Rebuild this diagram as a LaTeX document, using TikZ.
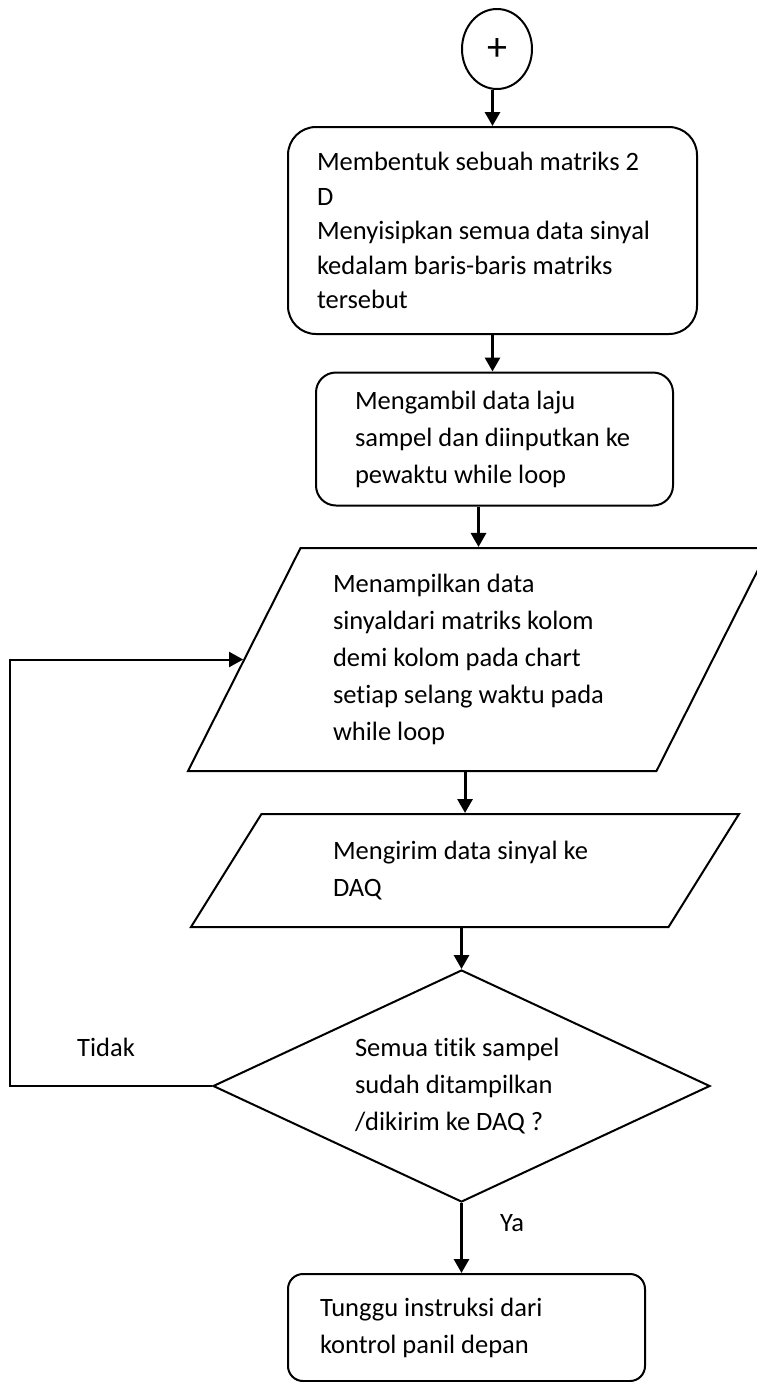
\documentclass[tikz,border=0pt]{standalone}
\usepackage{fontspec}
\setmainfont{Carlito}[Ligatures=NoCommon]
\usetikzlibrary{shapes.geometric,arrows.meta}

\begin{document}
\begin{tikzpicture}[x=0.5pt,y=-0.5pt,
  font=\fontsize{13.25}{18.5}\selectfont,
  every node/.style={line width=1pt, inner sep=0pt},
  execute at begin node={\spaceskip=0pt\xspaceskip=0pt},
  box/.style={draw, rectangle, align=left},
  slanted/.style={draw, trapezium, trapezium stretches body, align=left},
  arr/.style={line width=1.5pt, -{Triangle[width=7.5pt,length=7pt]}}]

  % Page frame
  \useasboundingbox (0,0) rectangle (756,1382);

  % Start
  \node[draw, ellipse, minimum width=35pt, minimum height=40pt, font=\fontsize{20}{20}\selectfont] (start) at (497,49) {+};

  % Steps
  \node[box, rounded corners=14pt, minimum width=204.5pt, minimum height=103.5pt, text width=175.5pt,
        font=\fontsize{13.25}{17.25}\selectfont] (matrix) at (492.5,230.5)
    {Membentuk sebuah matriks 2\\D\\Menyisipkan semua data sinyal\\kedalam baris-baris matriks\\tersebut};
  \node[box, rounded corners=10pt, minimum width=178.5pt, minimum height=66.5pt, text width=139.5pt] (rate) at (494.5,439)
    {Mengambil data laju\\sampel dan diinputkan ke\\pewaktu while loop};
  \node[slanted, trapezium left angle=56.6, trapezium right angle=123.4, minimum width=290.5pt, minimum height=111.5pt, text width=145.5pt] (show) at (478.5,659.5)
    {Menampilkan data\\sinyaldari matriks kolom\\demi kolom pada chart\\setiap selang waktu pada\\while loop};
  \node[slanted, trapezium left angle=39.9, trapezium right angle=140.1, minimum width=274pt, minimum height=56.5pt, text width=132pt] (send) at (465,870.5)
    {Mengirim data sinyal ke\\DAQ};

  % Decision
  \node[draw, diamond, aspect=2.14, minimum width=248.5pt, minimum height=116pt, text width=106.5pt, align=left] (check) at (461.5,1086)
    {Semua titik sampel\\sudah ditampilkan\\/dikirim ke DAQ ?};

  % End
  \node[box, rounded corners=7.5pt, minimum width=178.5pt, minimum height=53.5pt, text width=146.5pt] (wait) at (466.5,1327.5)
    {Tunggu instruksi dari\\kontrol panil depan};

  % Branch labels
  \node (yes) at (512,1223) {Ya};
  \node (no) at (106,1047) {Tidak};

  % Corner of the loop back
  \coordinate (loop) at (9.5,1086);

  % Arrows
  \draw[arr] (start.south -| matrix.north) -- (matrix.north);
  \draw[arr] (matrix.south) -- (matrix.south |- rate.north);
  \draw[arr] (rate.south -| show.north) -- (show.north);
  \draw[arr] (show.south -| send.north) -- (send.north);
  \draw[arr] (send.south -| check.north) -- (check.north);
  \draw[arr] (check.south) -- (check.south |- wait.north);
  \draw[arr, line width=1pt] (check.west) -- (loop) |- (show.west);

\end{tikzpicture}
\end{document}
